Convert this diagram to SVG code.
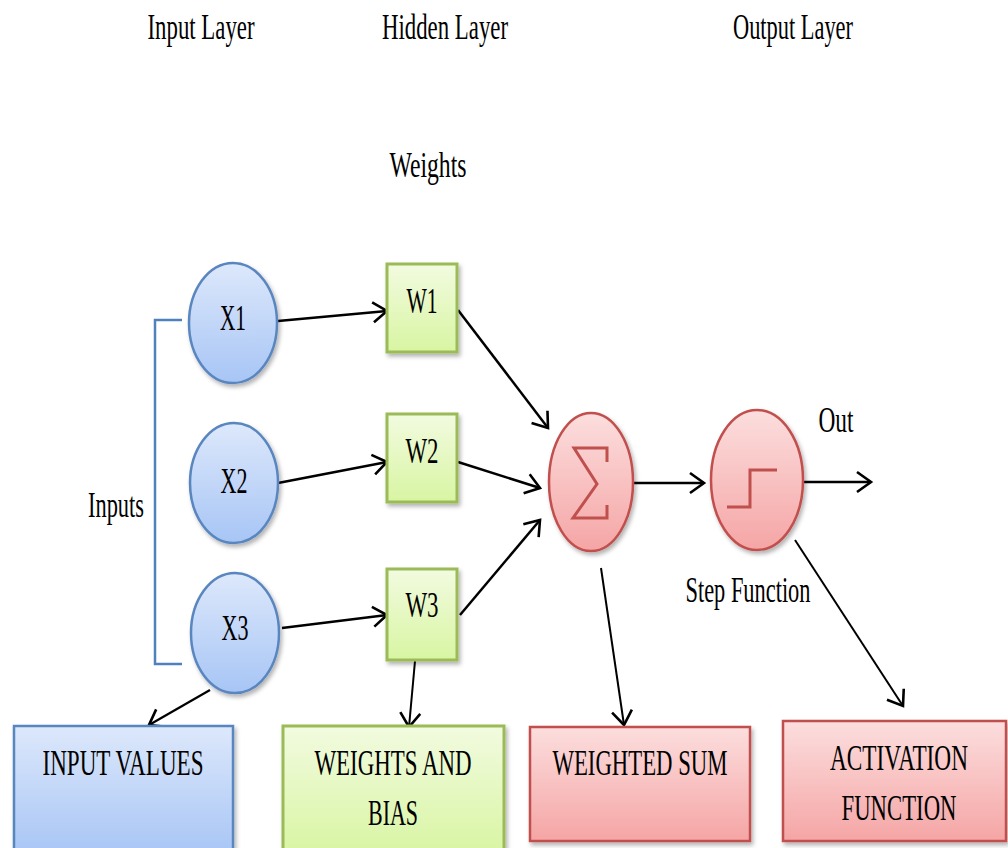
<svg xmlns="http://www.w3.org/2000/svg" width="1008" height="848" viewBox="0 0 1008 848">
<style>
.t{font-family:"Liberation Serif","Times New Roman",serif;font-size:35px;fill:#000;text-anchor:middle}
.c{stroke-width:2.5;fill:none;stroke:#000}
.blue{fill:url(#gb);stroke:#5a86c0;stroke-width:2.5}
.green{fill:url(#gg);stroke:#9bbb59;stroke-width:3}
.red{fill:url(#gr);stroke:#c0504d;stroke-width:2.5}
.sym{fill:none;stroke:#c0504d;stroke-width:3}
</style>
<defs>
<linearGradient id="gb" x1="0" y1="0" x2="0" y2="1"><stop offset="0" stop-color="#dde8fb"/><stop offset="1" stop-color="#a7c5f5"/></linearGradient>
<linearGradient id="gg" x1="0" y1="0" x2="0" y2="1"><stop offset="0" stop-color="#f2fbe0"/><stop offset="1" stop-color="#d8f5a2"/></linearGradient>
<linearGradient id="gr" x1="0" y1="0" x2="0" y2="1"><stop offset="0" stop-color="#fcdede"/><stop offset="1" stop-color="#f5a5a5"/></linearGradient>
<filter id="sh" x="-20%" y="-20%" width="140%" height="140%"><feDropShadow dx="2" dy="3" stdDeviation="2" flood-color="#000" flood-opacity="0.3"/></filter>
<marker id="ar" markerUnits="userSpaceOnUse" markerWidth="20" markerHeight="24" refX="17" refY="12" orient="auto" viewBox="0 0 20 24"><path d="M3,2 L17,12 L3,22" fill="none" stroke="#000" stroke-width="2.6"/></marker>
</defs>
<rect width="1008" height="848" fill="#fff"/>

<g id="labels">
<text class="t" x="201" y="39" textLength="107" lengthAdjust="spacingAndGlyphs">Input Layer</text>
<text class="t" x="445" y="39" textLength="126" lengthAdjust="spacingAndGlyphs">Hidden Layer</text>
<text class="t" x="793" y="39" textLength="120" lengthAdjust="spacingAndGlyphs">Output Layer</text>
<text class="t" x="428" y="177" textLength="77" lengthAdjust="spacingAndGlyphs">Weights</text>
<text class="t" x="116" y="517" textLength="56" lengthAdjust="spacingAndGlyphs">Inputs</text>
<text class="t" x="836" y="432" textLength="35" lengthAdjust="spacingAndGlyphs">Out</text>
<text class="t" x="748" y="602" textLength="125" lengthAdjust="spacingAndGlyphs">Step Function</text>
</g>

<g id="bracket" fill="none" stroke="#4f81bd" stroke-width="2.5">
<path d="M182,320 H155 V664 H182"/>
</g>

<g id="connectors">
<line class="c" x1="278" y1="321" x2="387" y2="311" marker-end="url(#ar)"/>
<line class="c" x1="278" y1="483" x2="387" y2="462" marker-end="url(#ar)"/>
<line class="c" x1="282" y1="628" x2="387" y2="615" marker-end="url(#ar)"/>
<line class="c" x1="458" y1="310" x2="548" y2="428" marker-end="url(#ar)"/>
<line class="c" x1="458" y1="462" x2="540" y2="488" marker-end="url(#ar)"/>
<line class="c" x1="460" y1="615" x2="540" y2="520" marker-end="url(#ar)"/>
<line class="c" x1="633" y1="483" x2="704" y2="483" marker-end="url(#ar)"/>
<line class="c" x1="803" y1="482" x2="871" y2="482" marker-end="url(#ar)"/>
<line class="c" x1="210" y1="690" x2="149" y2="725" marker-end="url(#ar)" style="stroke-width:2.2"/>
<line class="c" x1="415" y1="661" x2="409" y2="727" marker-end="url(#ar)" style="stroke-width:2"/>
<line class="c" x1="601" y1="568" x2="624" y2="725" marker-end="url(#ar)" style="stroke-width:2"/>
<line class="c" x1="795" y1="540" x2="903" y2="706" marker-end="url(#ar)" style="stroke-width:2"/>
</g>

<g id="x1"><ellipse class="blue" filter="url(#sh)" cx="233" cy="323" rx="44" ry="60"/><text class="t" x="233" y="330" textLength="26" lengthAdjust="spacingAndGlyphs">X1</text></g>
<g id="x2"><ellipse class="blue" filter="url(#sh)" cx="234" cy="483" rx="44" ry="60"/><text class="t" x="234" y="493" textLength="27" lengthAdjust="spacingAndGlyphs">X2</text></g>
<g id="x3"><ellipse class="blue" filter="url(#sh)" cx="235" cy="633" rx="44" ry="60"/><text class="t" x="235" y="640" textLength="27" lengthAdjust="spacingAndGlyphs">X3</text></g>

<g id="w1"><rect class="green" filter="url(#sh)" x="387" y="264" width="70" height="88"/><text class="t" x="422" y="313" textLength="31" lengthAdjust="spacingAndGlyphs">W1</text></g>
<g id="w2"><rect class="green" filter="url(#sh)" x="387" y="414" width="70" height="88"/><text class="t" x="422" y="463" textLength="33" lengthAdjust="spacingAndGlyphs">W2</text></g>
<g id="w3"><rect class="green" filter="url(#sh)" x="387" y="569" width="70" height="91"/><text class="t" x="422" y="617" textLength="33" lengthAdjust="spacingAndGlyphs">W3</text></g>

<g id="sum"><ellipse class="red" filter="url(#sh)" cx="591" cy="482" rx="42" ry="69"/><path class="sym" d="M607,462 V448 H574 L597,484 L573,518 H607 V505"/></g>
<g id="step"><ellipse class="red" filter="url(#sh)" cx="757" cy="480" rx="46" ry="70"/><path class="sym" d="M727,507 H750 V470 H777"/></g>

<g id="input-values"><rect class="blue" filter="url(#sh)" x="14" y="726" width="219" height="130"/><text class="t" x="123" y="775" textLength="161" lengthAdjust="spacingAndGlyphs">INPUT VALUES</text></g>
<g id="weights-bias"><rect class="green" filter="url(#sh)" x="283" y="726" width="221" height="130"/><text class="t" x="393" y="775" textLength="157" lengthAdjust="spacingAndGlyphs">WEIGHTS AND</text><text class="t" x="393" y="825" textLength="50" lengthAdjust="spacingAndGlyphs">BIAS</text></g>
<g id="weighted-sum"><rect class="red" filter="url(#sh)" x="530" y="727" width="220" height="114"/><text class="t" x="640" y="775" textLength="175" lengthAdjust="spacingAndGlyphs">WEIGHTED SUM</text></g>
<g id="activation"><rect class="red" filter="url(#sh)" x="783" y="721" width="223" height="120"/><text class="t" x="899" y="770" textLength="138" lengthAdjust="spacingAndGlyphs">ACTIVATION</text><text class="t" x="899" y="820" textLength="115" lengthAdjust="spacingAndGlyphs">FUNCTION</text></g>
</svg>
